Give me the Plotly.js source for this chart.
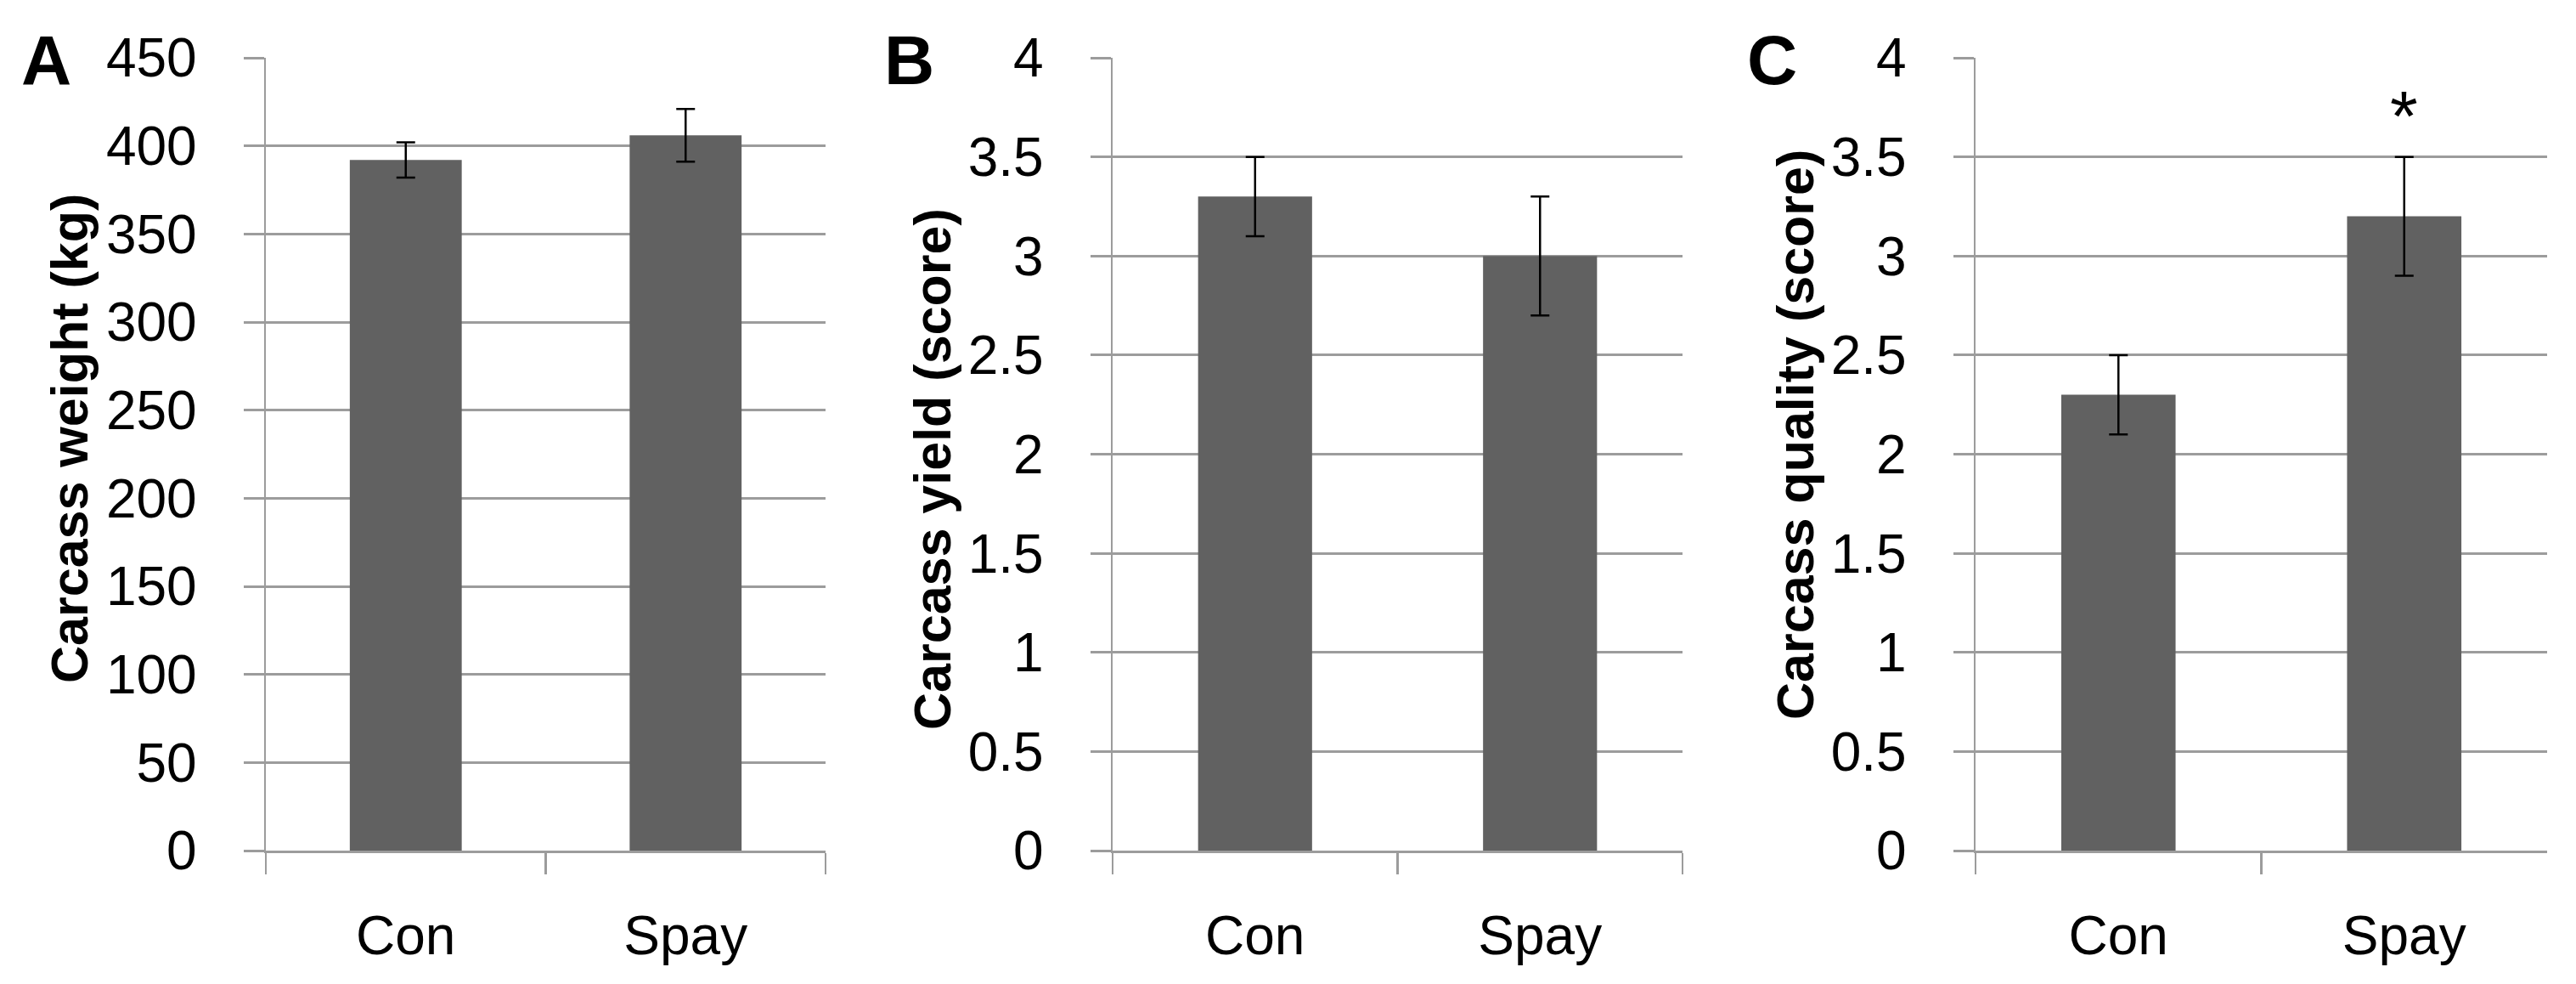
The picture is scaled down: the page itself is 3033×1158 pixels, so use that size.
<!DOCTYPE html>
<html><head><meta charset="utf-8">
<script src="https://cdn.plot.ly/plotly-3.0.1.min.js"></script>
<style>html,body{margin:0;padding:0;background:#fff}#chart{width:3033px;height:1158px}</style>
</head><body><div id="chart"></div>
<script>
// ---- data ----
const categories = ['Con', 'Spay'];
const weightMean = [392, 406];
const weightErr = [10, 15];
const yieldMean = [3.3, 3.0];
const yieldErr = [0.2, 0.3];
const qualityMean = [2.3, 3.2];
const qualityErr = [0.2, 0.3];
const qualityStars = ['', '*'];
const qualityStarY = [null, 3.72];
const panelLetters = ['A', 'B', 'C'];
const yTitles = ['Carcass weight (kg)', 'Carcass yield (score)', 'Carcass quality (score)'];
const weightRange = [0, 450];
const weightStep = 50;
const scoreRange = [0, 4];
const scoreStep = 0.5;

// ---- layout geometry (pixels) ----
const W = 3033, H = 1158;
const FONT = 'Liberation Sans, Arial, sans-serif';
const plotTop = 68, plotBottom = 1001;
const xPix = [[313, 972], [1310, 1981], [2326, 2999]];
const letterPos = [[54, 70], [1070, 70], [2086, 70]];
const titlePos = [[82, 516], [1098, 552], [2114, 512]];
const grey = '#9c9c9c';
const barColor = '#616161';

const series = [
  {mean: weightMean, err: weightErr, range: weightRange, step: weightStep},
  {mean: yieldMean, err: yieldErr, range: scoreRange, step: scoreStep},
  {mean: qualityMean, err: qualityErr, range: scoreRange, step: scoreStep}
];

const traces = [];
const layout = {
  width: W, height: H,
  margin: {l: 0, r: 0, t: 0, b: 0},
  paper_bgcolor: '#fff', plot_bgcolor: '#fff',
  showlegend: false,
  bargap: 0.6,
  font: {family: FONT, size: 64, color: '#000'},
  annotations: []
};

series.forEach((s, i) => {
  const n = i === 0 ? '' : String(i + 1);
  traces.push({
    type: 'bar', x: categories, y: s.mean,
    xaxis: 'x' + n, yaxis: 'y' + n,
    marker: {color: barColor, line: {width: 0}},
    error_y: {type: 'data', array: s.err, visible: true, color: '#000', thickness: 2.5, width: 11},
    hoverinfo: 'skip'
  });
  layout['xaxis' + n] = {
    domain: [xPix[i][0] / W, xPix[i][1] / W],
    anchor: 'y' + n,
    type: 'category', range: [-0.5, 1.5],
    showline: true, linecolor: grey, linewidth: 3,
    ticks: 'outside', tickson: 'boundaries', ticklen: 25, tickwidth: 2.5, tickcolor: grey,
    ticklabelstandoff: 42,
    showgrid: false, zeroline: false,
    tickfont: {family: FONT, size: 64, color: '#000'}
  };
  layout['yaxis' + n] = {
    domain: [(H - plotBottom) / H, (H - plotTop) / H],
    anchor: 'x' + n,
    range: s.range, tick0: 0, dtick: s.step,
    showline: true, linecolor: grey, linewidth: 2.5,
    showgrid: true, gridcolor: grey, gridwidth: 3,
    ticks: 'outside', ticklen: 24, tickwidth: 3, tickcolor: grey,
    ticklabelstandoff: 42,
    zeroline: false,
    tickfont: {family: FONT, size: 64, color: '#000'}
  };
  layout.annotations.push({
    xref: 'paper', yref: 'paper',
    x: letterPos[i][0] / W, y: 1 - letterPos[i][1] / H,
    xanchor: 'center', yanchor: 'middle',
    text: '<b>' + panelLetters[i] + '</b>', showarrow: false,
    font: {family: FONT, size: 82, color: '#000'}
  });
  layout.annotations.push({
    xref: 'paper', yref: 'paper',
    x: titlePos[i][0] / W, y: 1 - titlePos[i][1] / H,
    xanchor: 'center', yanchor: 'middle', textangle: -90,
    text: '<b>' + yTitles[i] + '</b>', showarrow: false,
    font: {family: FONT, size: 61, color: '#000'}
  });
});

categories.forEach((c, k) => {
  if (qualityStars[k]) {
    layout.annotations.push({
      xref: 'x3', yref: 'y3', x: c, y: qualityStarY[k],
      xanchor: 'center', yanchor: 'middle', yshift: -4,
      text: qualityStars[k], showarrow: false,
      font: {family: FONT, size: 84, color: '#000'}
    });
  }
});

Plotly.newPlot('chart', traces, layout, {staticPlot: true, displayModeBar: false});
</script>
</body></html>
